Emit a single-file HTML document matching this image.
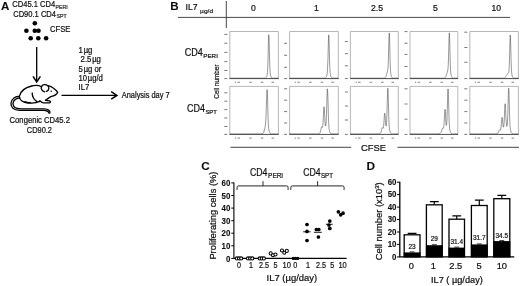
<!DOCTYPE html>
<html><head><meta charset="utf-8"><title>Figure</title>
<style>
html,body{margin:0;padding:0;background:#fff;}
body{width:520px;height:286px;overflow:hidden;}
svg{display:block;font-family:"Liberation Sans",sans-serif;fill:#111;}
text{stroke:#111;stroke-width:0.22px;}
.b{font-weight:bold;stroke-width:0.1px;}
.t8{font-size:7.6px;}
.sub{font-size:5px;}
</style></head><body>
<svg width="520" height="286" viewBox="0 0 520 286">
<rect width="520" height="286" fill="#fff"/>
<defs><filter id="soft" x="0" y="0" width="520" height="286" filterUnits="userSpaceOnUse"><feGaussianBlur stdDeviation="0.38"/></filter></defs>
<g filter="url(#soft)">

<g id="panelA">
<text x="1.0" y="9.7" class="b" font-size="11.6">A</text>
<text x="12.3" y="7.3" font-size="8.3" textLength="42.8" lengthAdjust="spacingAndGlyphs">CD45.1 CD4</text>
<text x="55.6" y="9.0" font-size="5.4" textLength="12.1" lengthAdjust="spacingAndGlyphs" fill="#444">PERI</text>
<text x="13.2" y="16.5" font-size="8.3" textLength="42.8" lengthAdjust="spacingAndGlyphs">CD90.1 CD4</text>
<text x="56.5" y="18.0" font-size="5.4" textLength="10.1" lengthAdjust="spacingAndGlyphs" fill="#444">SPT</text>
<circle cx="34.8" cy="23.2" r="2.3" fill="#000"/>
<circle cx="26.4" cy="30.7" r="2.3" fill="#000"/>
<circle cx="34.8" cy="30.7" r="2.3" fill="#000"/>
<circle cx="38.5" cy="30.7" r="2.3" fill="#000"/>
<circle cx="30.7" cy="38.3" r="2.3" fill="#000"/>
<circle cx="38.3" cy="38.3" r="2.3" fill="#000"/>
<circle cx="46.1" cy="38.3" r="2.3" fill="#000"/>
<text x="50.0" y="31.8" font-size="8.4" textLength="20.3" lengthAdjust="spacingAndGlyphs">CFSE</text>
<path d="M36.7 47V81" stroke="#000" stroke-width="1.3" fill="none"/>
<path d="M33 76.4L36.7 82L40.4 76.4" stroke="#000" stroke-width="1.5" fill="none"/>
<path d="M61.5 95.4H116" stroke="#000" stroke-width="1.3" fill="none"/>
<path d="M111.2 91.6L116.9 95.4L111.2 99.2" stroke="#000" stroke-width="1.5" fill="none"/>
<text x="121.8" y="97.5" font-size="8.2" textLength="47.8" lengthAdjust="spacingAndGlyphs">Analysis day 7</text>
<text transform="translate(78.5,53.2) scale(1,1.09)" font-size="7.7">1<tspan dx="0.9">µg</tspan></text>
<text transform="translate(80.6,62.4) scale(1,1.09)" font-size="7.7">2.5<tspan dx="0.9">µg</tspan></text>
<text transform="translate(78.5,71.6) scale(1,1.09)" font-size="7.7">5<tspan dx="0.9">µg</tspan> or</text>
<text transform="translate(78.5,80.8) scale(1,1.09)" font-size="7.7">10<tspan dx="0.7">µg/d</tspan></text>
<text transform="translate(78.5,90.0) scale(1,1.09)" font-size="7.7">IL7</text>
<text x="9.6" y="123.3" font-size="8.2" textLength="60.4" lengthAdjust="spacingAndGlyphs">Congenic CD45.2</text>
<text x="26.8" y="132.8" font-size="8.2" textLength="25.2" lengthAdjust="spacingAndGlyphs">CD90.2</text>
<g fill="none" stroke="#000" stroke-width="1.3" stroke-linecap="round" stroke-linejoin="round">
<path d="M19.3 96.3 C20.3 91.9 24.9 87.6 31.6 86.0 C34.9 85.2 38.9 85.4 41.5 86.8"/>
<path d="M41.5 86.8 C42.2 84.4 45.6 83.8 47.8 85.7 C49.6 87.3 49.0 90.4 46.4 91.4"/>
<path d="M41.5 86.8 C40.7 88.6 41.8 91.0 44.6 91.9"/>
<path d="M47.8 85.7 C51.5 86.2 56.1 89.7 57.7 92.3 C57.1 94.2 54.1 95.9 50.8 96.6 C48.8 97.9 46.8 99.2 45.5 100.3"/>
<path d="M45.5 100.3 L49.5 100.8 C50.9 101.4 50.7 102.8 49.1 102.8 L43.5 102.8 C42.2 102.7 40.9 101.9 39.8 100.8"/>
<path d="M39.8 101.4 C36.9 102.7 33.6 103.2 30.2 103.0 C27.6 103.2 23.6 102.6 21.6 100.8 C20.3 99.9 19.3 97.9 19.3 96.3"/>
<path d="M32.2 92.9 C32.2 95.9 33.6 99.2 36.9 101.6"/>
<path d="M24.9 101.6 C26.2 102.4 28.2 102.8 30.2 102.7"/>
<path d="M19.3 96.6 C15.6 95.9 11.4 98.6 11.0 103.2 C10.7 107.2 13.6 110.0 19.6 110.3 L43.5 110.3 C46.8 110.3 48.6 111.2 49.2 113.3"/>
<path d="M19.9 98.2 C17.0 97.9 13.2 99.9 13.0 103.5 C13.0 106.6 15.6 108.7 20.3 108.9 L44.2 108.9 C48.2 109.1 50.3 110.7 49.9 112.9"/>
</g>
<circle cx="51.2" cy="91.3" r="0.75" fill="#000"/>
</g>
<g id="panelB">
<text x="170.2" y="9.8" class="b" font-size="11.6">B</text>
<text x="185.5" y="10.3" font-size="9" textLength="12" lengthAdjust="spacingAndGlyphs">IL7</text>
<text x="200.1" y="12.6" font-size="6.1" fill="#333" textLength="13" lengthAdjust="spacingAndGlyphs">µg/d</text>
<path d="M226.3 1V28" stroke="#333" stroke-width="0.9"/>
<path d="M178 17.4H510" stroke="#333" stroke-width="0.9"/>
<text x="253.4" y="11.1" font-size="8.6" text-anchor="middle">0</text>
<text x="316.3" y="11.1" font-size="8.6" text-anchor="middle">1</text>
<text x="377" y="11.1" font-size="8.6" text-anchor="middle">2.5</text>
<text x="435.3" y="11.1" font-size="8.6" text-anchor="middle">5</text>
<text x="496.3" y="11.1" font-size="8.6" text-anchor="middle">10</text>
<text x="184.8" y="55.5" font-size="10" textLength="18" lengthAdjust="spacingAndGlyphs">CD4</text>
<text x="203.2" y="57.8" font-size="6.2" textLength="14.7" lengthAdjust="spacingAndGlyphs" fill="#222">PERI</text>
<text x="186.9" y="112.1" font-size="10" textLength="18" lengthAdjust="spacingAndGlyphs">CD4</text>
<text x="205.4" y="114.3" font-size="6.2" textLength="11.6" lengthAdjust="spacingAndGlyphs" fill="#222">SPT</text>
<text transform="translate(218.5,98.7) rotate(-90)" font-size="6.3" fill="#222" textLength="34.2" lengthAdjust="spacingAndGlyphs">Cell number</text>
<path d="M229.8 78.6V31.5H278.4V78.6" fill="none" stroke="#a4a4a4" stroke-width="0.8"/>
<path d="M229.5 78.6H278.7" stroke="#333" stroke-width="0.9"/>
<path d="M224.3 34.4h3" stroke="#555" stroke-width="0.8"/>
<path d="M224.3 43.3h3" stroke="#555" stroke-width="0.8"/>
<path d="M224.3 52.4h3" stroke="#555" stroke-width="0.8"/>
<path d="M224.3 61.6h3" stroke="#555" stroke-width="0.8"/>
<path d="M224.3 70.5h3" stroke="#555" stroke-width="0.8"/>
<path d="M224.3 78.6h3" stroke="#555" stroke-width="0.8"/>
<path d="M234.9 82.3h1.2" stroke="#999" stroke-width="1.2"/>
<path d="M237.5 82.3h2.6" stroke="#999" stroke-width="1.2"/>
<path d="M249.2 82.3h2.6" stroke="#999" stroke-width="1.2"/>
<path d="M260.8 82.3h2.6" stroke="#999" stroke-width="1.2"/>
<path d="M271.5 82.3h2.6" stroke="#999" stroke-width="1.2"/>
<path d="M229.8 78.1L230.1 78.1L230.4 78.1L230.7 78.1L231.0 78.1L231.3 78.1L231.6 78.1L231.9 78.1L232.2 78.1L232.5 78.1L232.8 78.1L233.1 78.1L233.4 78.1L233.7 78.1L234.1 78.1L234.4 78.1L234.7 78.1L235.0 78.1L235.3 78.1L235.6 78.1L235.9 78.1L236.2 78.1L236.5 78.1L236.8 78.1L237.1 78.1L237.4 78.1L237.7 78.1L238.0 78.1L238.3 78.1L238.6 78.1L238.9 78.1L239.2 78.1L239.5 78.1L239.8 78.1L240.1 78.1L240.4 78.1L240.7 78.1L241.0 78.1L241.3 78.1L241.6 78.1L241.9 78.1L242.3 78.1L242.6 78.1L242.9 78.1L243.2 78.1L243.5 78.1L243.8 78.1L244.1 78.1L244.4 78.1L244.7 78.1L245.0 78.1L245.3 78.1L245.6 78.1L245.9 78.1L246.2 78.1L246.5 78.1L246.8 78.1L247.1 78.1L247.4 78.1L247.7 78.1L248.0 78.1L248.3 78.1L248.6 78.1L248.9 78.1L249.2 78.1L249.5 78.1L249.8 78.1L250.2 78.1L250.5 78.1L250.8 78.1L251.1 78.1L251.4 78.1L251.7 78.1L252.0 78.1L252.3 78.1L252.6 78.1L252.9 78.1L253.2 78.1L253.5 78.1L253.8 78.1L254.1 78.1L254.4 78.1L254.7 78.1L255.0 78.1L255.3 78.1L255.6 78.1L255.9 78.1L256.2 78.1L256.5 78.1L256.8 78.1L257.1 78.1L257.4 78.1L257.7 78.1L258.0 78.1L258.4 78.1L258.7 78.1L259.0 78.1L259.3 78.1L259.6 78.1L259.9 78.1L260.2 78.1L260.5 78.1L260.8 78.1L261.1 78.1L261.4 78.1L261.7 78.1L262.0 78.1L262.3 78.1L262.6 78.1L262.9 78.1L263.2 78.1L263.5 78.1L263.8 78.1L264.1 78.1L264.4 78.1L264.7 78.1L265.0 78.0L265.3 78.0L265.6 77.9L265.9 77.6L266.2 77.3L266.6 76.7L266.9 75.8L267.2 74.4L267.5 71.7L267.8 66.1L268.1 56.1L268.4 43.3L268.7 34.8L269.0 36.9L269.3 47.9L269.6 60.2L269.9 68.6L270.2 72.9L270.5 75.0L270.8 76.1L271.1 76.9L271.4 77.4L271.7 77.7L272.0 77.9L272.3 78.0L272.6 78.1L272.9 78.1L273.2 78.1L273.5 78.1L273.8 78.1L274.1 78.1L274.5 78.1L274.8 78.1L275.1 78.1L275.4 78.1L275.7 78.1L276.0 78.1L276.3 78.1L276.6 78.1L276.9 78.1L277.2 78.1L277.5 78.1L277.8 78.1L278.1 78.1L278.4 78.1" fill="none" stroke="#444" stroke-width="0.55" stroke-linejoin="round"/>
<path d="M229.8 134.4V86.4H278.4V134.4" fill="none" stroke="#a4a4a4" stroke-width="0.8"/>
<path d="M229.5 134.4H278.7" stroke="#333" stroke-width="0.9"/>
<path d="M224.3 92.8h3" stroke="#555" stroke-width="0.8"/>
<path d="M224.3 101.2h3" stroke="#555" stroke-width="0.8"/>
<path d="M224.3 109.6h3" stroke="#555" stroke-width="0.8"/>
<path d="M224.3 118h3" stroke="#555" stroke-width="0.8"/>
<path d="M224.3 126.5h3" stroke="#555" stroke-width="0.8"/>
<path d="M224.3 134.4h3" stroke="#555" stroke-width="0.8"/>
<path d="M234.9 138.1h1.2" stroke="#999" stroke-width="1.2"/>
<path d="M237.5 138.1h2.6" stroke="#999" stroke-width="1.2"/>
<path d="M249.2 138.1h2.6" stroke="#999" stroke-width="1.2"/>
<path d="M260.8 138.1h2.6" stroke="#999" stroke-width="1.2"/>
<path d="M271.5 138.1h2.6" stroke="#999" stroke-width="1.2"/>
<path d="M229.8 133.9L230.1 133.9L230.4 133.9L230.7 133.9L231.0 133.9L231.3 133.9L231.6 133.9L231.9 133.9L232.2 133.9L232.5 133.9L232.8 133.9L233.1 133.9L233.4 133.9L233.7 133.9L234.1 133.9L234.4 133.9L234.7 133.9L235.0 133.9L235.3 133.9L235.6 133.9L235.9 133.9L236.2 133.9L236.5 133.9L236.8 133.9L237.1 133.9L237.4 133.9L237.7 133.9L238.0 133.9L238.3 133.9L238.6 133.9L238.9 133.9L239.2 133.9L239.5 133.9L239.8 133.9L240.1 133.9L240.4 133.9L240.7 133.9L241.0 133.9L241.3 133.9L241.6 133.9L241.9 133.9L242.3 133.9L242.6 133.9L242.9 133.9L243.2 133.9L243.5 133.9L243.8 133.9L244.1 133.9L244.4 133.9L244.7 133.9L245.0 133.9L245.3 133.9L245.6 133.9L245.9 133.9L246.2 133.9L246.5 133.9L246.8 133.9L247.1 133.9L247.4 133.9L247.7 133.9L248.0 133.9L248.3 133.9L248.6 133.9L248.9 133.9L249.2 133.9L249.5 133.9L249.8 133.9L250.2 133.9L250.5 133.9L250.8 133.9L251.1 133.9L251.4 133.9L251.7 133.9L252.0 133.9L252.3 133.9L252.6 133.9L252.9 133.9L253.2 133.9L253.5 133.9L253.8 133.9L254.1 133.9L254.4 133.9L254.7 133.9L255.0 133.9L255.3 133.9L255.6 133.9L255.9 133.9L256.2 133.9L256.5 133.9L256.8 133.9L257.1 133.9L257.4 133.9L257.7 133.9L258.0 133.9L258.4 133.9L258.7 133.9L259.0 133.9L259.3 133.9L259.6 133.9L259.9 133.9L260.2 133.9L260.5 133.9L260.8 133.9L261.1 133.9L261.4 133.9L261.7 133.9L262.0 133.9L262.3 133.8L262.6 133.7L262.9 133.5L263.2 133.2L263.5 132.7L263.8 132.0L264.1 131.1L264.4 130.0L264.7 128.7L265.0 127.3L265.3 125.6L265.6 123.1L265.9 118.5L266.2 110.3L266.6 99.2L266.9 90.1L267.2 89.6L267.5 96.0L267.8 108.0L268.1 118.5L268.4 125.1L268.7 128.6L269.0 130.4L269.3 131.5L269.6 132.3L269.9 132.9L270.2 133.3L270.5 133.5L270.8 133.7L271.1 133.8L271.4 133.8L271.7 133.9L272.0 133.9L272.3 133.9L272.6 133.9L272.9 133.9L273.2 133.9L273.5 133.9L273.8 133.9L274.1 133.9L274.5 133.9L274.8 133.9L275.1 133.9L275.4 133.9L275.7 133.9L276.0 133.9L276.3 133.9L276.6 133.9L276.9 133.9L277.2 133.9L277.5 133.9L277.8 133.9L278.1 133.9L278.4 133.9" fill="none" stroke="#444" stroke-width="0.55" stroke-linejoin="round"/>
<path d="M289.6 78.6V31.5H338.3V78.6" fill="none" stroke="#a4a4a4" stroke-width="0.8"/>
<path d="M289.3 78.6H338.6" stroke="#333" stroke-width="0.9"/>
<path d="M284.1 43.3h3" stroke="#555" stroke-width="0.8"/>
<path d="M284.1 55.3h3" stroke="#555" stroke-width="0.8"/>
<path d="M284.1 67.3h3" stroke="#555" stroke-width="0.8"/>
<path d="M284.1 78.6h3" stroke="#555" stroke-width="0.8"/>
<path d="M294.7 82.3h1.2" stroke="#999" stroke-width="1.2"/>
<path d="M297.3 82.3h2.6" stroke="#999" stroke-width="1.2"/>
<path d="M309.0 82.3h2.6" stroke="#999" stroke-width="1.2"/>
<path d="M320.7 82.3h2.6" stroke="#999" stroke-width="1.2"/>
<path d="M331.4 82.3h2.6" stroke="#999" stroke-width="1.2"/>
<path d="M289.6 78.1L289.9 78.1L290.2 78.1L290.5 78.1L290.8 78.1L291.1 78.1L291.4 78.1L291.7 78.1L292.0 78.1L292.3 78.1L292.6 78.1L292.9 78.1L293.3 78.1L293.6 78.1L293.9 78.1L294.2 78.1L294.5 78.1L294.8 78.1L295.1 78.1L295.4 78.1L295.7 78.1L296.0 78.1L296.3 78.1L296.6 78.1L296.9 78.1L297.2 78.1L297.5 78.1L297.8 78.1L298.1 78.1L298.4 78.1L298.7 78.1L299.0 78.1L299.3 78.1L299.6 78.1L299.9 78.1L300.3 78.1L300.6 78.1L300.9 78.1L301.2 78.1L301.5 78.1L301.8 78.1L302.1 78.1L302.4 78.1L302.7 78.1L303.0 78.1L303.3 78.1L303.6 78.1L303.9 78.1L304.2 78.1L304.5 78.1L304.8 78.1L305.1 78.1L305.4 78.1L305.7 78.1L306.0 78.1L306.3 78.1L306.6 78.1L306.9 78.1L307.3 78.1L307.6 78.1L307.9 78.1L308.2 78.1L308.5 78.1L308.8 78.1L309.1 78.1L309.4 78.1L309.7 78.1L310.0 78.1L310.3 78.1L310.6 78.1L310.9 78.1L311.2 78.1L311.5 78.1L311.8 78.1L312.1 78.1L312.4 78.1L312.7 78.1L313.0 78.1L313.3 78.1L313.6 78.1L314.0 78.1L314.3 78.1L314.6 78.1L314.9 78.1L315.2 78.1L315.5 78.1L315.8 78.1L316.1 78.1L316.4 78.1L316.7 78.1L317.0 78.1L317.3 78.1L317.6 78.1L317.9 78.1L318.2 78.1L318.5 78.1L318.8 78.1L319.1 78.1L319.4 78.1L319.7 78.1L320.0 78.1L320.3 78.1L320.6 78.1L321.0 78.1L321.3 78.1L321.6 78.1L321.9 78.1L322.2 78.1L322.5 78.1L322.8 78.1L323.1 78.1L323.4 78.1L323.7 78.1L324.0 78.1L324.3 78.1L324.6 78.1L324.9 78.1L325.2 78.0L325.5 77.9L325.8 77.7L326.1 77.3L326.4 76.8L326.7 75.9L327.0 74.6L327.3 72.2L327.6 67.2L328.0 57.7L328.3 44.8L328.6 35.0L328.9 35.2L329.2 45.4L329.5 58.2L329.8 67.4L330.1 72.3L330.4 74.7L330.7 76.0L331.0 76.8L331.3 77.3L331.6 77.7L331.9 77.9L332.2 78.0L332.5 78.1L332.8 78.1L333.1 78.1L333.4 78.1L333.7 78.1L334.0 78.1L334.3 78.1L334.6 78.1L335.0 78.1L335.3 78.1L335.6 78.1L335.9 78.1L336.2 78.1L336.5 78.1L336.8 78.1L337.1 78.1L337.4 78.1L337.7 78.1L338.0 78.1L338.3 78.1" fill="none" stroke="#444" stroke-width="0.55" stroke-linejoin="round"/>
<path d="M289.6 134.4V86.4H338.3V134.4" fill="none" stroke="#a4a4a4" stroke-width="0.8"/>
<path d="M289.3 134.4H338.6" stroke="#333" stroke-width="0.9"/>
<path d="M284.1 88.8h3" stroke="#555" stroke-width="0.8"/>
<path d="M284.1 100.2h3" stroke="#555" stroke-width="0.8"/>
<path d="M284.1 111.6h3" stroke="#555" stroke-width="0.8"/>
<path d="M284.1 123h3" stroke="#555" stroke-width="0.8"/>
<path d="M284.1 134.4h3" stroke="#555" stroke-width="0.8"/>
<path d="M294.7 138.1h1.2" stroke="#999" stroke-width="1.2"/>
<path d="M297.3 138.1h2.6" stroke="#999" stroke-width="1.2"/>
<path d="M309.0 138.1h2.6" stroke="#999" stroke-width="1.2"/>
<path d="M320.7 138.1h2.6" stroke="#999" stroke-width="1.2"/>
<path d="M331.4 138.1h2.6" stroke="#999" stroke-width="1.2"/>
<path d="M289.6 133.9L289.9 133.9L290.2 133.9L290.5 133.9L290.8 133.9L291.1 133.9L291.4 133.9L291.7 133.9L292.0 133.9L292.3 133.9L292.6 133.9L292.9 133.9L293.3 133.9L293.6 133.9L293.9 133.9L294.2 133.9L294.5 133.9L294.8 133.9L295.1 133.9L295.4 133.9L295.7 133.9L296.0 133.9L296.3 133.9L296.6 133.9L296.9 133.9L297.2 133.9L297.5 133.9L297.8 133.9L298.1 133.9L298.4 133.9L298.7 133.9L299.0 133.9L299.3 133.9L299.6 133.9L299.9 133.9L300.3 133.9L300.6 133.9L300.9 133.9L301.2 133.9L301.5 133.9L301.8 133.9L302.1 133.9L302.4 133.9L302.7 133.9L303.0 133.9L303.3 133.9L303.6 133.9L303.9 133.9L304.2 133.9L304.5 133.9L304.8 133.9L305.1 133.9L305.4 133.9L305.7 133.9L306.0 133.9L306.3 133.9L306.6 133.9L306.9 133.9L307.3 133.9L307.6 133.9L307.9 133.9L308.2 133.9L308.5 133.9L308.8 133.9L309.1 133.9L309.4 133.9L309.7 133.9L310.0 133.9L310.3 133.9L310.6 133.9L310.9 133.9L311.2 133.9L311.5 133.9L311.8 133.9L312.1 133.9L312.4 133.9L312.7 133.9L313.0 133.9L313.3 133.9L313.6 133.9L314.0 133.9L314.3 133.9L314.6 133.9L314.9 133.9L315.2 133.9L315.5 133.9L315.8 133.9L316.1 133.9L316.4 133.9L316.7 133.9L317.0 133.9L317.3 133.9L317.6 133.9L317.9 133.9L318.2 133.8L318.5 133.8L318.8 133.7L319.1 133.6L319.4 133.4L319.7 133.2L320.0 132.8L320.3 132.1L320.6 130.9L321.0 129.3L321.3 127.7L321.6 126.8L321.9 126.9L322.2 127.4L322.5 127.3L322.8 125.9L323.1 122.2L323.4 116.3L323.7 110.0L324.0 106.8L324.3 108.8L324.6 114.6L324.9 120.6L325.2 124.5L325.5 126.1L325.8 125.8L326.1 123.3L326.4 117.5L326.7 107.6L327.0 96.0L327.3 88.8L327.6 90.7L328.0 100.6L328.3 112.6L328.6 121.6L328.9 126.8L329.2 129.4L329.5 130.8L329.8 131.8L330.1 132.5L330.4 133.0L330.7 133.4L331.0 133.6L331.3 133.7L331.6 133.8L331.9 133.9L332.2 133.9L332.5 133.9L332.8 133.9L333.1 133.9L333.4 133.9L333.7 133.9L334.0 133.9L334.3 133.9L334.6 133.9L335.0 133.9L335.3 133.9L335.6 133.9L335.9 133.9L336.2 133.9L336.5 133.9L336.8 133.9L337.1 133.9L337.4 133.9L337.7 133.9L338.0 133.9L338.3 133.9" fill="none" stroke="#444" stroke-width="0.55" stroke-linejoin="round"/>
<path d="M350.4 78.6V31.5H398.3V78.6" fill="none" stroke="#a4a4a4" stroke-width="0.8"/>
<path d="M350.09999999999997 78.6H398.6" stroke="#333" stroke-width="0.9"/>
<path d="M344.9 41.6h3" stroke="#555" stroke-width="0.8"/>
<path d="M344.9 53.7h3" stroke="#555" stroke-width="0.8"/>
<path d="M344.9 65.8h3" stroke="#555" stroke-width="0.8"/>
<path d="M344.9 78.6h3" stroke="#555" stroke-width="0.8"/>
<path d="M355.5 82.3h1.2" stroke="#999" stroke-width="1.2"/>
<path d="M358.0 82.3h2.6" stroke="#999" stroke-width="1.2"/>
<path d="M369.5 82.3h2.6" stroke="#999" stroke-width="1.2"/>
<path d="M381.0 82.3h2.6" stroke="#999" stroke-width="1.2"/>
<path d="M391.5 82.3h2.6" stroke="#999" stroke-width="1.2"/>
<path d="M350.4 78.1L350.7 78.1L351.0 78.1L351.3 78.1L351.6 78.1L351.9 78.1L352.2 78.1L352.5 78.1L352.8 78.1L353.1 78.1L353.4 78.1L353.7 78.1L354.0 78.1L354.3 78.1L354.6 78.1L354.9 78.1L355.2 78.1L355.5 78.1L355.8 78.1L356.1 78.1L356.4 78.1L356.7 78.1L357.0 78.1L357.3 78.1L357.6 78.1L357.9 78.1L358.2 78.1L358.5 78.1L358.8 78.1L359.1 78.1L359.4 78.1L359.7 78.1L360.0 78.1L360.3 78.1L360.6 78.1L360.9 78.1L361.2 78.1L361.5 78.1L361.8 78.1L362.1 78.1L362.4 78.1L362.7 78.1L363.0 78.1L363.3 78.1L363.6 78.1L363.9 78.1L364.2 78.1L364.5 78.1L364.8 78.1L365.1 78.1L365.4 78.1L365.7 78.1L366.0 78.1L366.3 78.1L366.6 78.1L366.9 78.1L367.2 78.1L367.5 78.1L367.8 78.1L368.1 78.1L368.4 78.1L368.7 78.1L369.0 78.1L369.3 78.1L369.6 78.1L369.9 78.1L370.2 78.1L370.5 78.1L370.8 78.1L371.1 78.1L371.4 78.1L371.7 78.1L372.0 78.1L372.3 78.1L372.6 78.1L372.9 78.1L373.2 78.1L373.5 78.1L373.8 78.1L374.1 78.1L374.4 78.1L374.6 78.1L374.9 78.1L375.2 78.1L375.5 78.1L375.8 78.1L376.1 78.1L376.4 78.1L376.7 78.1L377.0 78.1L377.3 78.1L377.6 78.1L377.9 78.1L378.2 78.1L378.5 78.1L378.8 78.1L379.1 78.1L379.4 78.1L379.7 78.1L380.0 78.1L380.3 78.1L380.6 78.1L380.9 78.1L381.2 78.1L381.5 78.1L381.8 78.1L382.1 78.1L382.4 78.1L382.7 78.1L383.0 78.1L383.3 78.1L383.6 78.1L383.9 78.1L384.2 78.1L384.5 78.0L384.8 77.9L385.1 77.8L385.4 77.5L385.7 77.1L386.0 76.5L386.3 75.6L386.6 74.7L386.9 73.6L387.2 72.4L387.5 71.2L387.8 69.5L388.1 66.2L388.4 59.4L388.7 48.0L389.0 36.3L389.3 32.9L389.6 38.9L389.9 52.0L390.2 63.6L390.5 70.4L390.8 73.7L391.1 75.4L391.4 76.4L391.7 77.1L392.0 77.5L392.3 77.8L392.6 78.0L392.9 78.0L393.2 78.1L393.5 78.1L393.8 78.1L394.1 78.1L394.4 78.1L394.7 78.1L395.0 78.1L395.3 78.1L395.6 78.1L395.9 78.1L396.2 78.1L396.5 78.1L396.8 78.1L397.1 78.1L397.4 78.1L397.7 78.1L398.0 78.1L398.3 78.1" fill="none" stroke="#444" stroke-width="0.55" stroke-linejoin="round"/>
<path d="M350.4 134.4V86.4H398.3V134.4" fill="none" stroke="#a4a4a4" stroke-width="0.8"/>
<path d="M350.09999999999997 134.4H398.6" stroke="#333" stroke-width="0.9"/>
<path d="M344.9 92h3" stroke="#555" stroke-width="0.8"/>
<path d="M344.9 106h3" stroke="#555" stroke-width="0.8"/>
<path d="M344.9 120h3" stroke="#555" stroke-width="0.8"/>
<path d="M344.9 134.4h3" stroke="#555" stroke-width="0.8"/>
<path d="M355.5 138.1h1.2" stroke="#999" stroke-width="1.2"/>
<path d="M358.0 138.1h2.6" stroke="#999" stroke-width="1.2"/>
<path d="M369.5 138.1h2.6" stroke="#999" stroke-width="1.2"/>
<path d="M381.0 138.1h2.6" stroke="#999" stroke-width="1.2"/>
<path d="M391.5 138.1h2.6" stroke="#999" stroke-width="1.2"/>
<path d="M350.4 133.9L350.7 133.9L351.0 133.9L351.3 133.9L351.6 133.9L351.9 133.9L352.2 133.9L352.5 133.9L352.8 133.9L353.1 133.9L353.4 133.9L353.7 133.9L354.0 133.9L354.3 133.9L354.6 133.9L354.9 133.9L355.2 133.9L355.5 133.9L355.8 133.9L356.1 133.9L356.4 133.9L356.7 133.9L357.0 133.9L357.3 133.9L357.6 133.9L357.9 133.9L358.2 133.9L358.5 133.9L358.8 133.9L359.1 133.9L359.4 133.9L359.7 133.9L360.0 133.9L360.3 133.9L360.6 133.9L360.9 133.9L361.2 133.9L361.5 133.9L361.8 133.9L362.1 133.9L362.4 133.9L362.7 133.9L363.0 133.9L363.3 133.9L363.6 133.9L363.9 133.9L364.2 133.9L364.5 133.9L364.8 133.9L365.1 133.9L365.4 133.9L365.7 133.9L366.0 133.9L366.3 133.9L366.6 133.9L366.9 133.9L367.2 133.9L367.5 133.9L367.8 133.9L368.1 133.9L368.4 133.9L368.7 133.9L369.0 133.9L369.3 133.9L369.6 133.9L369.9 133.9L370.2 133.9L370.5 133.9L370.8 133.9L371.1 133.9L371.4 133.9L371.7 133.9L372.0 133.9L372.3 133.9L372.6 133.9L372.9 133.9L373.2 133.9L373.5 133.9L373.8 133.9L374.1 133.9L374.4 133.9L374.6 133.9L374.9 133.9L375.2 133.9L375.5 133.9L375.8 133.9L376.1 133.9L376.4 133.9L376.7 133.9L377.0 133.9L377.3 133.9L377.6 133.9L377.9 133.9L378.2 133.9L378.5 133.9L378.8 133.8L379.1 133.8L379.4 133.7L379.7 133.6L380.0 133.4L380.3 133.2L380.6 133.0L380.9 132.5L381.2 131.7L381.5 130.5L381.8 129.1L382.1 128.0L382.4 127.6L382.7 127.9L383.0 128.3L383.3 128.0L383.6 126.4L383.9 123.0L384.2 118.2L384.5 114.1L384.8 113.2L385.1 116.0L385.4 120.5L385.7 124.2L386.0 125.9L386.3 125.5L386.6 122.5L386.9 115.7L387.2 105.0L387.5 93.7L387.8 88.2L388.1 91.8L388.4 102.8L388.7 114.5L389.0 122.8L389.3 127.4L389.6 129.7L389.9 131.0L390.2 131.9L390.5 132.6L390.8 133.1L391.1 133.4L391.4 133.6L391.7 133.8L392.0 133.8L392.3 133.9L392.6 133.9L392.9 133.9L393.2 133.9L393.5 133.9L393.8 133.9L394.1 133.9L394.4 133.9L394.7 133.9L395.0 133.9L395.3 133.9L395.6 133.9L395.9 133.9L396.2 133.9L396.5 133.9L396.8 133.9L397.1 133.9L397.4 133.9L397.7 133.9L398.0 133.9L398.3 133.9" fill="none" stroke="#444" stroke-width="0.55" stroke-linejoin="round"/>
<path d="M410.0 78.6V31.5H457.8V78.6" fill="none" stroke="#a4a4a4" stroke-width="0.8"/>
<path d="M409.7 78.6H458.1" stroke="#333" stroke-width="0.9"/>
<path d="M404.5 31.6h3" stroke="#555" stroke-width="0.8"/>
<path d="M404.5 43.3h3" stroke="#555" stroke-width="0.8"/>
<path d="M404.5 54.4h3" stroke="#555" stroke-width="0.8"/>
<path d="M404.5 66.5h3" stroke="#555" stroke-width="0.8"/>
<path d="M404.5 78.6h3" stroke="#555" stroke-width="0.8"/>
<path d="M415.0 82.3h1.2" stroke="#999" stroke-width="1.2"/>
<path d="M417.5 82.3h2.6" stroke="#999" stroke-width="1.2"/>
<path d="M429.0 82.3h2.6" stroke="#999" stroke-width="1.2"/>
<path d="M440.5 82.3h2.6" stroke="#999" stroke-width="1.2"/>
<path d="M451.0 82.3h2.6" stroke="#999" stroke-width="1.2"/>
<path d="M410.0 78.1L410.3 78.1L410.6 78.1L410.9 78.1L411.2 78.1L411.5 78.1L411.8 78.1L412.1 78.1L412.4 78.1L412.7 78.1L413.0 78.1L413.3 78.1L413.6 78.1L413.9 78.1L414.2 78.1L414.5 78.1L414.8 78.1L415.1 78.1L415.4 78.1L415.7 78.1L416.0 78.1L416.3 78.1L416.6 78.1L416.9 78.1L417.2 78.1L417.5 78.1L417.8 78.1L418.1 78.1L418.4 78.1L418.7 78.1L419.0 78.1L419.3 78.1L419.6 78.1L419.9 78.1L420.2 78.1L420.5 78.1L420.8 78.1L421.1 78.1L421.4 78.1L421.7 78.1L421.9 78.1L422.2 78.1L422.5 78.1L422.8 78.1L423.1 78.1L423.4 78.1L423.7 78.1L424.0 78.1L424.3 78.1L424.6 78.1L424.9 78.1L425.2 78.1L425.5 78.1L425.8 78.1L426.1 78.1L426.4 78.1L426.7 78.1L427.0 78.1L427.3 78.1L427.6 78.1L427.9 78.1L428.2 78.1L428.5 78.1L428.8 78.1L429.1 78.1L429.4 78.1L429.7 78.1L430.0 78.1L430.3 78.1L430.6 78.1L430.9 78.1L431.2 78.1L431.5 78.1L431.8 78.1L432.1 78.1L432.4 78.1L432.7 78.1L433.0 78.1L433.3 78.1L433.6 78.1L433.9 78.1L434.2 78.1L434.5 78.1L434.8 78.1L435.1 78.1L435.4 78.1L435.7 78.1L436.0 78.1L436.3 78.1L436.6 78.1L436.9 78.1L437.2 78.1L437.5 78.1L437.8 78.1L438.1 78.1L438.4 78.1L438.7 78.1L439.0 78.1L439.3 78.1L439.6 78.1L439.9 78.1L440.2 78.1L440.5 78.1L440.8 78.1L441.1 78.1L441.4 78.1L441.7 78.1L442.0 78.1L442.3 78.1L442.6 78.1L442.9 78.1L443.2 78.1L443.5 78.1L443.8 78.1L444.1 78.0L444.4 78.0L444.7 77.9L445.0 77.7L445.3 77.4L445.6 77.0L445.9 76.5L446.1 75.8L446.4 75.0L446.7 74.2L447.0 73.2L447.3 72.2L447.6 71.1L447.9 69.4L448.2 65.9L448.5 58.6L448.8 46.9L449.1 35.4L449.4 32.9L449.7 39.6L450.0 52.9L450.3 64.2L450.6 70.7L450.9 73.9L451.2 75.5L451.5 76.5L451.8 77.1L452.1 77.6L452.4 77.8L452.7 78.0L453.0 78.0L453.3 78.1L453.6 78.1L453.9 78.1L454.2 78.1L454.5 78.1L454.8 78.1L455.1 78.1L455.4 78.1L455.7 78.1L456.0 78.1L456.3 78.1L456.6 78.1L456.9 78.1L457.2 78.1L457.5 78.1L457.8 78.1" fill="none" stroke="#444" stroke-width="0.55" stroke-linejoin="round"/>
<path d="M410.0 134.4V86.4H457.8V134.4" fill="none" stroke="#a4a4a4" stroke-width="0.8"/>
<path d="M409.7 134.4H458.1" stroke="#333" stroke-width="0.9"/>
<path d="M404.5 88.8h3" stroke="#555" stroke-width="0.8"/>
<path d="M404.5 104h3" stroke="#555" stroke-width="0.8"/>
<path d="M404.5 119.2h3" stroke="#555" stroke-width="0.8"/>
<path d="M404.5 134.4h3" stroke="#555" stroke-width="0.8"/>
<path d="M415.0 138.1h1.2" stroke="#999" stroke-width="1.2"/>
<path d="M417.5 138.1h2.6" stroke="#999" stroke-width="1.2"/>
<path d="M429.0 138.1h2.6" stroke="#999" stroke-width="1.2"/>
<path d="M440.5 138.1h2.6" stroke="#999" stroke-width="1.2"/>
<path d="M451.0 138.1h2.6" stroke="#999" stroke-width="1.2"/>
<path d="M410.0 133.9L410.3 133.9L410.6 133.9L410.9 133.9L411.2 133.9L411.5 133.9L411.8 133.9L412.1 133.9L412.4 133.9L412.7 133.9L413.0 133.9L413.3 133.9L413.6 133.9L413.9 133.9L414.2 133.9L414.5 133.9L414.8 133.9L415.1 133.9L415.4 133.9L415.7 133.9L416.0 133.9L416.3 133.9L416.6 133.9L416.9 133.9L417.2 133.9L417.5 133.9L417.8 133.9L418.1 133.9L418.4 133.9L418.7 133.9L419.0 133.9L419.3 133.9L419.6 133.9L419.9 133.9L420.2 133.9L420.5 133.9L420.8 133.9L421.1 133.9L421.4 133.9L421.7 133.9L421.9 133.9L422.2 133.9L422.5 133.9L422.8 133.9L423.1 133.9L423.4 133.9L423.7 133.9L424.0 133.9L424.3 133.9L424.6 133.9L424.9 133.9L425.2 133.9L425.5 133.9L425.8 133.9L426.1 133.9L426.4 133.9L426.7 133.9L427.0 133.9L427.3 133.9L427.6 133.9L427.9 133.9L428.2 133.9L428.5 133.9L428.8 133.9L429.1 133.9L429.4 133.9L429.7 133.9L430.0 133.9L430.3 133.9L430.6 133.9L430.9 133.9L431.2 133.9L431.5 133.9L431.8 133.9L432.1 133.9L432.4 133.9L432.7 133.9L433.0 133.9L433.3 133.9L433.6 133.9L433.9 133.9L434.2 133.9L434.5 133.9L434.8 133.9L435.1 133.9L435.4 133.9L435.7 133.9L436.0 133.9L436.3 133.9L436.6 133.9L436.9 133.9L437.2 133.9L437.5 133.9L437.8 133.9L438.1 133.8L438.4 133.8L438.7 133.7L439.0 133.7L439.3 133.6L439.6 133.5L439.9 133.3L440.2 133.1L440.5 132.9L440.8 132.6L441.1 132.3L441.4 131.7L441.7 130.8L442.0 129.7L442.3 128.6L442.6 128.0L442.9 128.0L443.2 128.3L443.5 128.1L443.8 126.7L444.1 123.4L444.4 118.0L444.7 112.3L445.0 109.3L445.3 111.0L445.6 116.1L445.9 121.4L446.1 124.6L446.4 125.4L446.7 123.8L447.0 118.7L447.3 109.5L447.6 97.8L447.9 89.1L448.2 89.1L448.5 97.9L448.8 110.1L449.1 120.0L449.4 125.9L449.7 128.9L450.0 130.6L450.3 131.6L450.6 132.4L450.9 132.9L451.2 133.3L451.5 133.6L451.8 133.7L452.1 133.8L452.4 133.9L452.7 133.9L453.0 133.9L453.3 133.9L453.6 133.9L453.9 133.9L454.2 133.9L454.5 133.9L454.8 133.9L455.1 133.9L455.4 133.9L455.7 133.9L456.0 133.9L456.3 133.9L456.6 133.9L456.9 133.9L457.2 133.9L457.5 133.9L457.8 133.9" fill="none" stroke="#444" stroke-width="0.55" stroke-linejoin="round"/>
<path d="M469.8 78.6V31.5H518.4V78.6" fill="none" stroke="#a4a4a4" stroke-width="0.8"/>
<path d="M469.5 78.6H518.6999999999999" stroke="#333" stroke-width="0.9"/>
<path d="M464.3 32.2h3" stroke="#555" stroke-width="0.8"/>
<path d="M464.3 47.5h3" stroke="#555" stroke-width="0.8"/>
<path d="M464.3 62.3h3" stroke="#555" stroke-width="0.8"/>
<path d="M464.3 78.6h3" stroke="#555" stroke-width="0.8"/>
<path d="M474.9 82.3h1.2" stroke="#999" stroke-width="1.2"/>
<path d="M477.5 82.3h2.6" stroke="#999" stroke-width="1.2"/>
<path d="M489.2 82.3h2.6" stroke="#999" stroke-width="1.2"/>
<path d="M500.8 82.3h2.6" stroke="#999" stroke-width="1.2"/>
<path d="M511.5 82.3h2.6" stroke="#999" stroke-width="1.2"/>
<path d="M469.8 78.1L470.1 78.1L470.4 78.1L470.7 78.1L471.0 78.1L471.3 78.1L471.6 78.1L471.9 78.1L472.2 78.1L472.5 78.1L472.8 78.1L473.1 78.1L473.4 78.1L473.7 78.1L474.1 78.1L474.4 78.1L474.7 78.1L475.0 78.1L475.3 78.1L475.6 78.1L475.9 78.1L476.2 78.1L476.5 78.1L476.8 78.1L477.1 78.1L477.4 78.1L477.7 78.1L478.0 78.1L478.3 78.1L478.6 78.1L478.9 78.1L479.2 78.1L479.5 78.1L479.8 78.1L480.1 78.1L480.4 78.1L480.7 78.1L481.0 78.1L481.3 78.1L481.6 78.1L481.9 78.1L482.3 78.1L482.6 78.1L482.9 78.1L483.2 78.1L483.5 78.1L483.8 78.1L484.1 78.1L484.4 78.1L484.7 78.1L485.0 78.1L485.3 78.1L485.6 78.1L485.9 78.1L486.2 78.1L486.5 78.1L486.8 78.1L487.1 78.1L487.4 78.1L487.7 78.1L488.0 78.1L488.3 78.1L488.6 78.1L488.9 78.1L489.2 78.1L489.5 78.1L489.8 78.1L490.2 78.1L490.5 78.1L490.8 78.1L491.1 78.1L491.4 78.1L491.7 78.1L492.0 78.1L492.3 78.1L492.6 78.1L492.9 78.1L493.2 78.1L493.5 78.1L493.8 78.1L494.1 78.1L494.4 78.1L494.7 78.1L495.0 78.1L495.3 78.1L495.6 78.1L495.9 78.1L496.2 78.1L496.5 78.1L496.8 78.1L497.1 78.1L497.4 78.1L497.7 78.1L498.0 78.1L498.4 78.1L498.7 78.1L499.0 78.1L499.3 78.1L499.6 78.1L499.9 78.1L500.2 78.1L500.5 78.1L500.8 78.1L501.1 78.1L501.4 78.1L501.7 78.1L502.0 78.1L502.3 78.1L502.6 78.1L502.9 78.1L503.2 78.1L503.5 78.1L503.8 78.1L504.1 78.1L504.4 78.0L504.7 77.9L505.0 77.7L505.3 77.3L505.6 76.9L505.9 76.3L506.2 75.7L506.6 75.1L506.9 74.7L507.2 74.4L507.5 74.1L507.8 73.7L508.1 73.3L508.4 73.0L508.7 72.4L509.0 70.5L509.3 65.4L509.6 55.5L509.9 43.0L510.2 35.0L510.5 37.5L510.8 48.6L511.1 60.8L511.4 68.9L511.7 73.1L512.0 75.1L512.3 76.2L512.6 76.9L512.9 77.4L513.2 77.7L513.5 77.9L513.8 78.0L514.1 78.1L514.5 78.1L514.8 78.1L515.1 78.1L515.4 78.1L515.7 78.1L516.0 78.1L516.3 78.1L516.6 78.1L516.9 78.1L517.2 78.1L517.5 78.1L517.8 78.1L518.1 78.1L518.4 78.1" fill="none" stroke="#444" stroke-width="0.55" stroke-linejoin="round"/>
<path d="M469.8 134.4V86.4H518.4V134.4" fill="none" stroke="#a4a4a4" stroke-width="0.8"/>
<path d="M469.5 134.4H518.6999999999999" stroke="#333" stroke-width="0.9"/>
<path d="M464.3 88.8h3" stroke="#555" stroke-width="0.8"/>
<path d="M464.3 100.2h3" stroke="#555" stroke-width="0.8"/>
<path d="M464.3 111.6h3" stroke="#555" stroke-width="0.8"/>
<path d="M464.3 123h3" stroke="#555" stroke-width="0.8"/>
<path d="M464.3 134.4h3" stroke="#555" stroke-width="0.8"/>
<path d="M474.9 138.1h1.2" stroke="#999" stroke-width="1.2"/>
<path d="M477.5 138.1h2.6" stroke="#999" stroke-width="1.2"/>
<path d="M489.2 138.1h2.6" stroke="#999" stroke-width="1.2"/>
<path d="M500.8 138.1h2.6" stroke="#999" stroke-width="1.2"/>
<path d="M511.5 138.1h2.6" stroke="#999" stroke-width="1.2"/>
<path d="M469.8 133.9L470.1 133.9L470.4 133.9L470.7 133.9L471.0 133.9L471.3 133.9L471.6 133.9L471.9 133.9L472.2 133.9L472.5 133.9L472.8 133.9L473.1 133.9L473.4 133.9L473.7 133.9L474.1 133.9L474.4 133.9L474.7 133.9L475.0 133.9L475.3 133.9L475.6 133.9L475.9 133.9L476.2 133.9L476.5 133.9L476.8 133.9L477.1 133.9L477.4 133.9L477.7 133.9L478.0 133.9L478.3 133.9L478.6 133.9L478.9 133.9L479.2 133.9L479.5 133.9L479.8 133.9L480.1 133.9L480.4 133.9L480.7 133.9L481.0 133.9L481.3 133.9L481.6 133.9L481.9 133.9L482.3 133.9L482.6 133.9L482.9 133.9L483.2 133.9L483.5 133.9L483.8 133.9L484.1 133.9L484.4 133.9L484.7 133.9L485.0 133.9L485.3 133.9L485.6 133.9L485.9 133.9L486.2 133.9L486.5 133.9L486.8 133.9L487.1 133.9L487.4 133.9L487.7 133.9L488.0 133.9L488.3 133.9L488.6 133.9L488.9 133.9L489.2 133.9L489.5 133.9L489.8 133.9L490.2 133.9L490.5 133.9L490.8 133.9L491.1 133.9L491.4 133.9L491.7 133.9L492.0 133.9L492.3 133.9L492.6 133.9L492.9 133.9L493.2 133.9L493.5 133.9L493.8 133.9L494.1 133.9L494.4 133.9L494.7 133.9L495.0 133.9L495.3 133.9L495.6 133.8L495.9 133.8L496.2 133.7L496.5 133.7L496.8 133.6L497.1 133.5L497.4 133.4L497.7 133.2L498.0 132.8L498.4 132.3L498.7 131.4L499.0 130.5L499.3 129.9L499.6 129.8L499.9 130.1L500.2 130.3L500.5 130.1L500.8 129.1L501.1 127.0L501.4 123.5L501.7 119.7L502.0 117.3L502.3 117.9L502.6 121.0L502.9 124.4L503.2 126.6L503.5 127.2L503.8 126.1L504.1 122.9L504.4 116.8L504.7 109.2L505.0 103.7L505.3 103.9L505.6 109.6L505.9 117.1L506.2 122.9L506.6 125.8L506.9 126.5L507.2 125.5L507.5 122.0L507.8 114.7L508.1 103.7L508.4 92.6L508.7 88.2L509.0 92.9L509.3 104.3L509.6 115.8L509.9 123.6L510.2 127.8L510.5 129.9L510.8 131.2L511.1 132.0L511.4 132.7L511.7 133.1L512.0 133.5L512.3 133.6L512.6 133.8L512.9 133.8L513.2 133.9L513.5 133.9L513.8 133.9L514.1 133.9L514.5 133.9L514.8 133.9L515.1 133.9L515.4 133.9L515.7 133.9L516.0 133.9L516.3 133.9L516.6 133.9L516.9 133.9L517.2 133.9L517.5 133.9L517.8 133.9L518.1 133.9L518.4 133.9" fill="none" stroke="#444" stroke-width="0.55" stroke-linejoin="round"/>
<path d="M230.5 147.3H351.2" stroke="#333" stroke-width="0.9"/>
<path d="M397.5 147.3H519" stroke="#333" stroke-width="0.9"/>
<text x="373.5" y="151.3" font-size="9.4" text-anchor="middle">CFSE</text>
</g>
<g id="panelC">
<text x="201.3" y="169.5" class="b" font-size="11.8">C</text>
<path d="M233.9 182.41999999999996V258.4H346.6" stroke="#000" stroke-width="1.1" fill="none"/>
<path d="M231.3 258.4H233.9" stroke="#000" stroke-width="1"/>
<text x="225.9" y="261.5" font-size="9" class="b" textLength="4.4" lengthAdjust="spacingAndGlyphs">0</text>
<path d="M231.3 245.8H233.9" stroke="#000" stroke-width="1"/>
<text x="221.5" y="248.9" font-size="9" class="b" textLength="8.8" lengthAdjust="spacingAndGlyphs">10</text>
<path d="M231.3 233.2H233.9" stroke="#000" stroke-width="1"/>
<text x="221.5" y="236.3" font-size="9" class="b" textLength="8.8" lengthAdjust="spacingAndGlyphs">20</text>
<path d="M231.3 220.7H233.9" stroke="#000" stroke-width="1"/>
<text x="221.5" y="223.8" font-size="9" class="b" textLength="8.8" lengthAdjust="spacingAndGlyphs">30</text>
<path d="M231.3 208.1H233.9" stroke="#000" stroke-width="1"/>
<text x="221.5" y="211.2" font-size="9" class="b" textLength="8.8" lengthAdjust="spacingAndGlyphs">40</text>
<path d="M231.3 195.5H233.9" stroke="#000" stroke-width="1"/>
<text x="221.5" y="198.6" font-size="9" class="b" textLength="8.8" lengthAdjust="spacingAndGlyphs">50</text>
<path d="M231.3 182.9H233.9" stroke="#000" stroke-width="1"/>
<text x="221.5" y="186.0" font-size="9" class="b" textLength="8.8" lengthAdjust="spacingAndGlyphs">60</text>
<text x="237.1" y="268.2" font-size="8.8" textLength="4.0" lengthAdjust="spacingAndGlyphs" stroke="#111" stroke-width="0.2">0</text>
<text x="249.1" y="268.2" font-size="8.8" textLength="4.0" lengthAdjust="spacingAndGlyphs" stroke="#111" stroke-width="0.2">1</text>
<text x="259.0" y="268.2" font-size="8.8" textLength="10.0" lengthAdjust="spacingAndGlyphs" stroke="#111" stroke-width="0.2">2.5</text>
<text x="273.6" y="268.2" font-size="8.8" textLength="4.0" lengthAdjust="spacingAndGlyphs" stroke="#111" stroke-width="0.2">5</text>
<text x="282.5" y="268.2" font-size="8.8" textLength="8.4" lengthAdjust="spacingAndGlyphs" stroke="#111" stroke-width="0.2">10</text>
<text x="293.3" y="268.2" font-size="8.8" textLength="4.0" lengthAdjust="spacingAndGlyphs" stroke="#111" stroke-width="0.2">0</text>
<text x="306.0" y="268.2" font-size="8.8" textLength="4.0" lengthAdjust="spacingAndGlyphs" stroke="#111" stroke-width="0.2">1</text>
<text x="316.0" y="268.2" font-size="8.8" textLength="10.0" lengthAdjust="spacingAndGlyphs" stroke="#111" stroke-width="0.2">2.5</text>
<text x="330.2" y="268.2" font-size="8.8" textLength="4.0" lengthAdjust="spacingAndGlyphs" stroke="#111" stroke-width="0.2">5</text>
<text x="338.4" y="268.2" font-size="8.8" textLength="8.4" lengthAdjust="spacingAndGlyphs" stroke="#111" stroke-width="0.2">10</text>
<text x="266.6" y="280.5" font-size="9.4" textLength="50.6" lengthAdjust="spacingAndGlyphs">IL7 (µg/day)</text>
<text transform="translate(215.6,259.6) rotate(-90)" font-size="8.4" textLength="88" lengthAdjust="spacingAndGlyphs">Proliferating cells (%)</text>
<text x="250.0" y="176.1" font-size="10" textLength="17.4" lengthAdjust="spacingAndGlyphs">CD4</text>
<text x="268.1" y="178.2" font-size="6.6" textLength="15" lengthAdjust="spacingAndGlyphs">PERI</text>
<text x="303.2" y="176.1" font-size="10" textLength="17.4" lengthAdjust="spacingAndGlyphs">CD4</text>
<text x="321.0" y="178.3" font-size="6.6" textLength="12" lengthAdjust="spacingAndGlyphs">SPT</text>
<path d="M237.1 189.9V187.3Q237.1 185.9 238.7 185.9H286.5Q288.1 185.9 288.1 187.3V189.9M263 185.9V181.2" fill="none" stroke="#111" stroke-width="0.9"/>
<path d="M290.8 189.9V187.3Q290.8 185.9 292.40000000000003 185.9H342.5Q344.1 185.9 344.1 187.3V189.9M317.6 185.9V181.2" fill="none" stroke="#111" stroke-width="0.9"/>
<circle cx="236.9" cy="258.4" r="1.55" fill="#fff" stroke="#000" stroke-width="1.05"/>
<circle cx="239.1" cy="258.4" r="1.55" fill="#fff" stroke="#000" stroke-width="1.05"/>
<circle cx="241.2" cy="258.4" r="1.55" fill="#fff" stroke="#000" stroke-width="1.05"/>
<circle cx="248.0" cy="258.4" r="1.55" fill="#fff" stroke="#000" stroke-width="1.05"/>
<circle cx="250.2" cy="258.4" r="1.55" fill="#fff" stroke="#000" stroke-width="1.05"/>
<circle cx="252.3" cy="258.4" r="1.55" fill="#fff" stroke="#000" stroke-width="1.05"/>
<circle cx="259.7" cy="258.4" r="1.55" fill="#fff" stroke="#000" stroke-width="1.05"/>
<circle cx="261.8" cy="258.4" r="1.55" fill="#fff" stroke="#000" stroke-width="1.05"/>
<circle cx="263.9" cy="258.4" r="1.55" fill="#fff" stroke="#000" stroke-width="1.05"/>
<circle cx="270.7" cy="253.4" r="1.55" fill="#fff" stroke="#000" stroke-width="1.05"/>
<circle cx="273.0" cy="255.2" r="1.55" fill="#fff" stroke="#000" stroke-width="1.05"/>
<circle cx="275.5" cy="254.5" r="1.55" fill="#fff" stroke="#000" stroke-width="1.05"/>
<circle cx="282.0" cy="250.5" r="1.55" fill="#fff" stroke="#000" stroke-width="1.05"/>
<circle cx="284.3" cy="252.7" r="1.55" fill="#fff" stroke="#000" stroke-width="1.05"/>
<circle cx="286.8" cy="250.9" r="1.55" fill="#fff" stroke="#000" stroke-width="1.05"/>
<circle cx="293.3" cy="258.4" r="1.65" fill="#000"/>
<circle cx="295.5" cy="258.4" r="1.65" fill="#000"/>
<circle cx="297.7" cy="258.4" r="1.65" fill="#000"/>
<circle cx="307.0" cy="224.5" r="1.85" fill="#000"/>
<circle cx="307.0" cy="231.4" r="1.85" fill="#000"/>
<circle cx="307.0" cy="240.5" r="1.85" fill="#000"/>
<circle cx="316.4" cy="229.5" r="1.85" fill="#000"/>
<circle cx="318.8" cy="229.5" r="1.85" fill="#000"/>
<circle cx="318.4" cy="237.0" r="1.85" fill="#000"/>
<circle cx="329.8" cy="221.1" r="1.85" fill="#000"/>
<circle cx="328.9" cy="225.0" r="1.85" fill="#000"/>
<circle cx="329.8" cy="228.4" r="1.85" fill="#000"/>
<circle cx="338.4" cy="211.8" r="1.85" fill="#000"/>
<circle cx="343.0" cy="213.2" r="1.85" fill="#000"/>
<circle cx="340.7" cy="214.8" r="1.85" fill="#000"/>
<path d="M303.2 231.8H310.6" stroke="#000" stroke-width="0.9"/>
<path d="M313.9 232.3H321.8" stroke="#000" stroke-width="0.9"/>
<path d="M325.9 224.3H332.7" stroke="#000" stroke-width="0.9"/>
</g>
<g id="panelD">
<text x="366.4" y="169.8" class="b" font-size="11.8">D</text>
<path d="M399.8 181.7V256.9H514.3" stroke="#000" stroke-width="1.3" fill="none"/>
<path d="M397.0 256.9H399.8" stroke="#000" stroke-width="1"/>
<text x="392.1" y="259.7" font-size="9" class="b" textLength="4.4" lengthAdjust="spacingAndGlyphs">0</text>
<path d="M397.0 244.4H399.8" stroke="#000" stroke-width="1"/>
<text x="387.7" y="247.2" font-size="9" class="b" textLength="8.8" lengthAdjust="spacingAndGlyphs">10</text>
<path d="M397.0 232.0H399.8" stroke="#000" stroke-width="1"/>
<text x="387.7" y="234.8" font-size="9" class="b" textLength="8.8" lengthAdjust="spacingAndGlyphs">20</text>
<path d="M397.0 219.5H399.8" stroke="#000" stroke-width="1"/>
<text x="387.7" y="222.3" font-size="9" class="b" textLength="8.8" lengthAdjust="spacingAndGlyphs">30</text>
<path d="M397.0 207.1H399.8" stroke="#000" stroke-width="1"/>
<text x="387.7" y="209.9" font-size="9" class="b" textLength="8.8" lengthAdjust="spacingAndGlyphs">40</text>
<path d="M397.0 194.6H399.8" stroke="#000" stroke-width="1"/>
<text x="387.7" y="197.4" font-size="9" class="b" textLength="8.8" lengthAdjust="spacingAndGlyphs">50</text>
<path d="M397.0 182.2H399.8" stroke="#000" stroke-width="1"/>
<text x="387.7" y="185.0" font-size="9" class="b" textLength="8.8" lengthAdjust="spacingAndGlyphs">60</text>
<path d="M412.1 234.8V233.3M407.70000000000005 233.3H416.5" stroke="#000" stroke-width="1.2" fill="none"/>
<rect x="404.2" y="234.8" width="15.8" height="22.1" fill="#fff" stroke="#000" stroke-width="1.3"/>
<path d="M409.70000000000005 251.9h4.8" stroke="#000" stroke-width="0.8" fill="none"/>
<rect x="403.7" y="252.4" width="16.8" height="4.5" fill="#000"/>
<text x="412.1" y="248.6" font-size="6.5" text-anchor="middle" fill="#222">23</text>
<path d="M434.29999999999995 204.8V201.6M429.9 201.6H438.69999999999993" stroke="#000" stroke-width="1.2" fill="none"/>
<rect x="426.4" y="204.8" width="15.8" height="52.1" fill="#fff" stroke="#000" stroke-width="1.3"/>
<path d="M431.9 244.7h4.8" stroke="#000" stroke-width="0.8" fill="none"/>
<rect x="425.9" y="245.2" width="16.8" height="11.7" fill="#000"/>
<text x="434.29999999999995" y="240.8" font-size="6.5" text-anchor="middle" fill="#222">29</text>
<path d="M456.75 219.2V215.8M452.35 215.8H461.15" stroke="#000" stroke-width="1.2" fill="none"/>
<rect x="449.0" y="219.2" width="15.5" height="37.7" fill="#fff" stroke="#000" stroke-width="1.3"/>
<path d="M454.35 247.1h4.8" stroke="#000" stroke-width="0.8" fill="none"/>
<rect x="448.5" y="247.6" width="16.5" height="9.3" fill="#000"/>
<text x="456.75" y="243.6" font-size="6.5" text-anchor="middle" fill="#222">31.4</text>
<path d="M479.29999999999995 205.5V200.1M474.9 200.1H483.69999999999993" stroke="#000" stroke-width="1.2" fill="none"/>
<rect x="471.4" y="205.5" width="15.8" height="51.4" fill="#fff" stroke="#000" stroke-width="1.3"/>
<path d="M476.9 243.9h4.8" stroke="#000" stroke-width="0.8" fill="none"/>
<rect x="470.9" y="244.4" width="16.8" height="12.5" fill="#000"/>
<text x="479.29999999999995" y="239.6" font-size="6.5" text-anchor="middle" fill="#222">31.7</text>
<path d="M501.8 198.7V195.3M497.40000000000003 195.3H506.2" stroke="#000" stroke-width="1.2" fill="none"/>
<rect x="493.8" y="198.7" width="16.0" height="58.2" fill="#fff" stroke="#000" stroke-width="1.3"/>
<path d="M499.40000000000003 240.6h4.8" stroke="#000" stroke-width="0.8" fill="none"/>
<rect x="493.3" y="241.1" width="17.0" height="15.8" fill="#000"/>
<text x="501.8" y="237.6" font-size="6.5" text-anchor="middle" fill="#222">34.5</text>
<text x="411.3" y="269" font-size="9.3" text-anchor="middle">0</text>
<text x="433.3" y="269" font-size="9.3" text-anchor="middle">1</text>
<text x="455.8" y="269" font-size="9.3" text-anchor="middle">2.5</text>
<text x="479.2" y="269" font-size="9.3" text-anchor="middle">5</text>
<text x="501.8" y="269" font-size="9.3" text-anchor="middle">10</text>
<text x="456.9" y="282.8" font-size="9.2" text-anchor="middle">IL7 ( µg/day)</text>
<text transform="translate(381.9,260.2) rotate(-90)" font-size="8.6" textLength="77.8" lengthAdjust="spacingAndGlyphs">Cell number (x10<tspan font-size="5.4" dy="-2.8">3</tspan><tspan dy="2.8">)</tspan></text>
</g>
</g></svg></body></html>
